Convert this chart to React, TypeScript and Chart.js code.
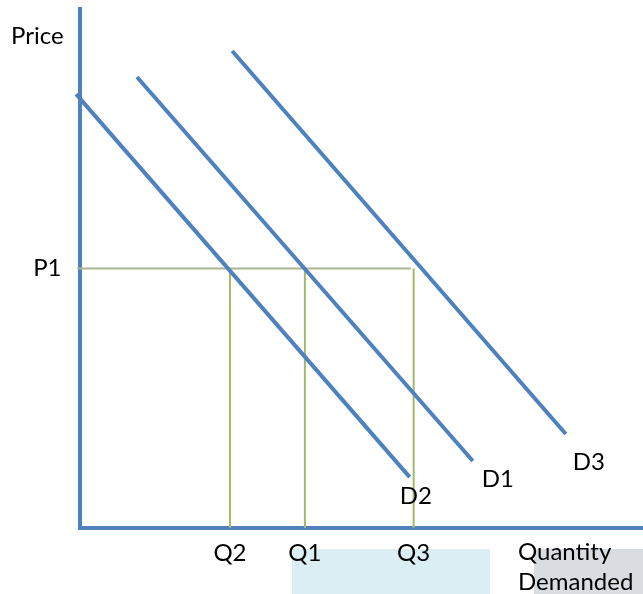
import React, { useEffect, useRef } from "react";
import { Chart, registerables } from "chart.js";

Chart.register(...registerables);

// Demand curves: quantity (x) and price (y) endpoints
const curveNames = ["D2", "D1", "D3"];
const d2Quantity = [-0.6, 58.6];
const d2Price = [83.6, 9.8];
const d1Quantity = [10.2, 69.8];
const d1Price = [86.9, 12.9];
const d3Quantity = [27.1, 86.3];
const d3Price = [91.9, 18.1];

// Reference levels
const priceLevel = 50;
const priceLabel = "P1";
const priceLineQuantity = [-0.4, 58.8];
const quantityTicks = [26.7, 40.0, 59.3];
const quantityLabels = ["Q2", "Q1", "Q3"];

const yTitle = "Price";
const xTitle = ["Quantity", "Demanded"];

const FONT = "Lato, 'Open Sans', sans-serif";
const FS = 24;
const BLUE = "#4F81BD";

const labelOffsets: Record<string, [number, number]> = {
  D2: [-10, 19],
  D1: [9, 18],
  D3: [7, 28],
};

export default function App() {
  const ref = useRef<HTMLCanvasElement | null>(null);

  useEffect(() => {
    if (!ref.current) return;
    const curves = [
      [d2Quantity, d2Price],
      [d1Quantity, d1Price],
      [d3Quantity, d3Price],
    ];
    const datasets: any[] = curves.map(([qs, ps], i) => ({
      label: curveNames[i],
      data: qs.map((q, j) => ({ x: q, y: ps[j] })),
      showLine: true,
      borderColor: BLUE,
      borderWidth: 4,
      pointRadius: 0,
      clip: false,
      order: 1,
    }));
    datasets.push({
      label: priceLabel,
      data: priceLineQuantity.map((q) => ({ x: q, y: priceLevel })),
      showLine: true,
      borderColor: "#A9B68F",
      borderWidth: 2,
      pointRadius: 0,
      clip: false,
      order: 2,
    });
    quantityTicks.forEach((q, i) => {
      datasets.push({
        label: quantityLabels[i],
        data: [
          { x: q, y: priceLevel },
          { x: q, y: 0 },
        ],
        showLine: true,
        borderColor: "#A2BA68",
        borderWidth: 2,
        pointRadius: 0,
        clip: false,
        order: 2,
      });
    });

    const decor = {
      id: "decor",
      beforeDraw(chart: any) {
        const ctx = chart.ctx;
        ctx.save();
        ctx.fillStyle = "#DAEEF3";
        ctx.fillRect(292, 549, 198, 45);
        ctx.fillStyle = "#D9DCE0";
        ctx.fillRect(534, 549, 109, 45);
        ctx.restore();
      },
      afterDraw(chart: any) {
        const ctx = chart.ctx;
        const xs = chart.scales.x;
        const ys = chart.scales.y;
        ctx.save();
        ctx.fillStyle = "#000";
        ctx.font = `${FS}px ${FONT}`;
        ctx.textBaseline = "middle";
        ctx.textAlign = "left";
        ctx.fillText(yTitle, 11, 36);
        ctx.fillText(xTitle[0], 518, 552);
        ctx.fillText(xTitle[1], 518, 582);
        curveNames.forEach((name, i) => {
          const qs = curves[i][0];
          const ps = curves[i][1];
          const px = xs.getPixelForValue(qs[qs.length - 1]);
          const py = ys.getPixelForValue(ps[ps.length - 1]);
          const [dx, dy] = labelOffsets[name];
          ctx.fillText(name, px + dx, py + dy);
        });
        ctx.restore();
      },
    };

    const chart = new Chart(ref.current, {
      type: "scatter",
      data: { datasets },
      options: {
        animation: false,
        responsive: false,
        layout: { padding: { top: 9, left: 0, right: 0, bottom: 0 } },
        plugins: { legend: { display: false }, tooltip: { enabled: false } },
        scales: {
          x: {
            type: "linear",
            min: 0,
            max: 100,
            grid: { display: false, drawTicks: false },
            border: { display: true, color: BLUE, width: 4 },
            afterBuildTicks: (scale: any) => {
              scale.ticks = quantityTicks.map((v) => ({ value: v }));
            },
            afterFit: (scale: any) => {
              scale.height = 66;
              scale.paddingLeft = 0;
              scale.paddingRight = 0;
              scale.paddingTop = 0;
              scale.paddingBottom = 0;
            },
            ticks: {
              autoSkip: false,
              maxRotation: 0,
              padding: 11,
              color: "#000",
              font: { family: FONT, size: FS },
              callback: (v: any) => {
                const i = quantityTicks.indexOf(Number(v));
                return i >= 0 ? quantityLabels[i] : "";
              },
            },
          },
          y: {
            type: "linear",
            min: 0,
            max: 100,
            grid: { display: false, drawTicks: false },
            border: { display: true, color: BLUE, width: 4 },
            afterBuildTicks: (scale: any) => {
              scale.ticks = [{ value: priceLevel }];
            },
            afterFit: (scale: any) => {
              scale.width = 79.5;
              scale.paddingLeft = 0;
              scale.paddingRight = 0;
              scale.paddingTop = 0;
              scale.paddingBottom = 0;
            },
            ticks: {
              autoSkip: false,
              padding: 18,
              color: "#000",
              font: { family: FONT, size: FS },
              callback: (v: any) => (Number(v) === priceLevel ? priceLabel : ""),
            },
          },
        },
      },
      plugins: [decor],
    } as any);
    return () => chart.destroy();
  }, []);

  return (
    <div style={{ position: "fixed", left: 0, top: 0, width: 643, height: 594, background: "#fff" }}>
      <canvas ref={ref} width={643} height={594} style={{ display: "block" }} />
    </div>
  );
}
